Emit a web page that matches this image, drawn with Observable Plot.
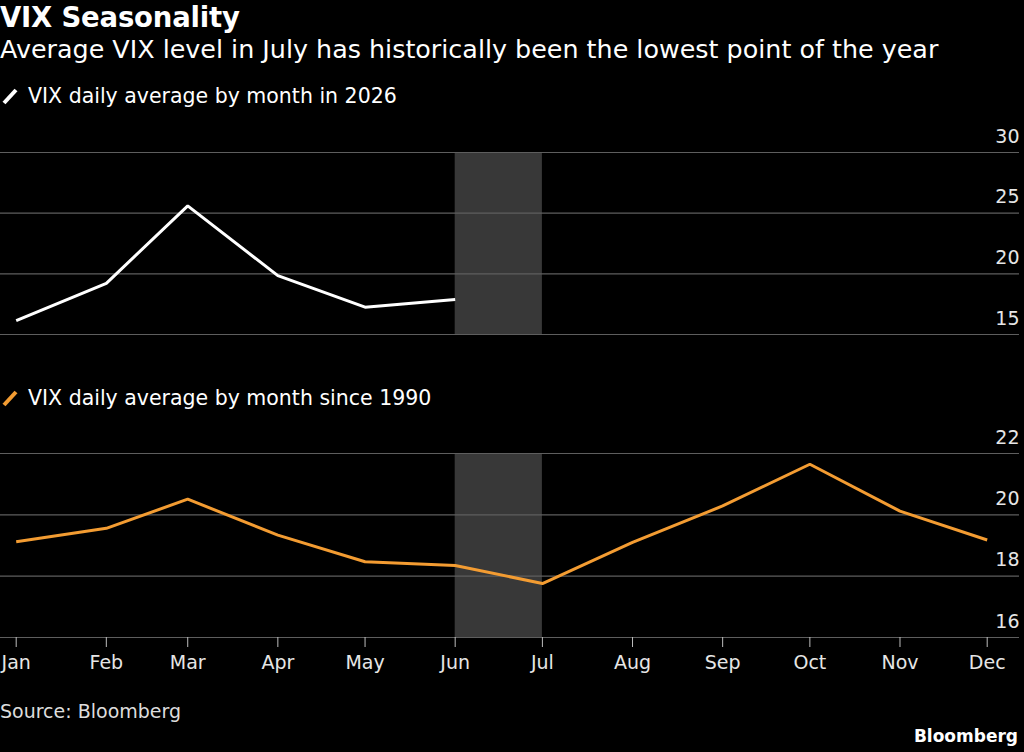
<!DOCTYPE html>
<html><head><meta charset="utf-8">
<script src="https://cdn.jsdelivr.net/npm/d3@7"></script>
<script src="https://cdn.jsdelivr.net/npm/@observablehq/plot@0.6"></script>
<style>
html,body{margin:0;padding:0;background:#000;}
#root{position:relative;width:1024px;height:752px;background:#000;color:#fff;font-family:"DejaVu Sans",sans-serif;overflow:hidden}
.abs{position:absolute;left:0;white-space:nowrap;line-height:1}
.title{top:4px;font-size:27.5px;font-weight:bold;letter-spacing:-0.2px}
.sub{top:37px;font-size:25.4px}
.leg{font-size:20.5px;color:#fff;display:flex;align-items:center}
.leg svg{margin-right:8px}
.src{top:702px;font-size:19px;color:#ddd}
.brand{top:728px;left:auto;right:6px;font-size:17px;font-weight:bold}
#p1{position:absolute;left:0;top:120px}
#p2{position:absolute;left:0;top:425px}
</style></head><body>
<div id="root">
  <div class="abs title">VIX Seasonality</div>
  <div class="abs sub">Average VIX level in July has historically been the lowest point of the year</div>
  <div class="abs leg" style="top:86px"><svg width="20" height="20"><line x1="4" y1="17" x2="16" y2="4" stroke="#fff" stroke-width="4"/></svg><span>VIX daily average by month in 2026</span></div>
  <div id="p1"></div>
  <div class="abs leg" style="top:388px"><svg width="20" height="20"><line x1="4" y1="17" x2="16" y2="4" stroke="#f39c32" stroke-width="4"/></svg><span>VIX daily average by month since 1990</span></div>
  <div id="p2"></div>
  <div class="abs src">Source: Bloomberg</div>
  <div class="abs brand">Bloomberg</div>
</div>
<script>
const months = ["Jan","Feb","Mar","Apr","May","Jun","Jul","Aug","Sep","Oct","Nov","Dec"];
const vix2026 = [16.15, 19.22, 25.6, 19.85, 17.25, 17.88];
const vixSince1990 = [19.12, 19.56, 20.51, 19.34, 18.47, 18.35, 17.76, 19.10, 20.29, 21.65, 20.12, 19.18];
const shadeMonths = ["Jun", "Jul"];
const ticksTop = [15, 20, 25, 30];
const ticksBottom = [16, 18, 20, 22];

const year = 2026;
const dateOf = m => new Date(Date.UTC(year, months.indexOf(m), 1));
const rows2026 = vix2026.map((v, i) => ({date: dateOf(months[i]), value: v}));
const rowsHist = vixSince1990.map((v, i) => ({date: dateOf(months[i]), value: v}));
const shade = [{x1: dateOf(shadeMonths[0]), x2: dateOf(shadeMonths[1])}];
const monthDates = months.map(dateOf);

const orange = "#f39c32";
const gridColor = "#5e5e5e";
const shadeColor = "#383838";
const font = '"DejaVu Sans",sans-serif';

const xScale = {type: "utc", domain: [dateOf("Jan"), dateOf("Dec")], range: [15.7, 986.7]};
const common = {
  width: 1024, marginLeft: 0, marginRight: 5,
  style: {background: "transparent", color: "#e6e6e6", fontFamily: font, fontSize: "19px", overflow: "visible"}
};

const p1 = Plot.plot({
  ...common,
  height: 220, marginTop: 32, marginBottom: 6,
  x: {...xScale, axis: null},
  y: {domain: [15, 30]},
  marks: [
    Plot.rect(shade, {x1: "x1", x2: "x2", fill: shadeColor}),
    Plot.ruleY(ticksTop, {stroke: gridColor, strokeWidth: 1.2}),
    Plot.axisY(ticksTop, {anchor: "right", label: null, tickSize: 0, tickPadding: 0, textAnchor: "end", dy: -16, fill: "#e6e6e6", fontSize: 19}),
    Plot.lineY(rows2026, {x: "date", y: "value", stroke: "#fff", strokeWidth: 3, strokeLinejoin: "miter", strokeLinecap: "butt"})
  ]
});
document.getElementById("p1").appendChild(p1);

const p2 = Plot.plot({
  ...common,
  height: 250, marginTop: 28, marginBottom: 38,
  x: {...xScale},
  y: {domain: [16, 22]},
  marks: [
    Plot.rect(shade, {x1: "x1", x2: "x2", fill: shadeColor}),
    Plot.ruleY(ticksBottom, {stroke: gridColor, strokeWidth: 1.2}),
    Plot.axisY(ticksBottom, {anchor: "right", label: null, tickSize: 0, tickPadding: 0, textAnchor: "end", dy: -16, fill: "#e6e6e6", fontSize: 19}),
    Plot.axisX(monthDates, {anchor: "bottom", label: null, tickSize: 10, tickPadding: 8, stroke: "#bdbdbd", fill: "#e6e6e6", fontSize: 19, tickFormat: d => months[d.getUTCMonth()]}),
    Plot.lineY(rowsHist, {x: "date", y: "value", stroke: orange, strokeWidth: 3, strokeLinejoin: "miter", strokeLinecap: "butt"})
  ]
});
document.getElementById("p2").appendChild(p2);
</script>
</body></html>
